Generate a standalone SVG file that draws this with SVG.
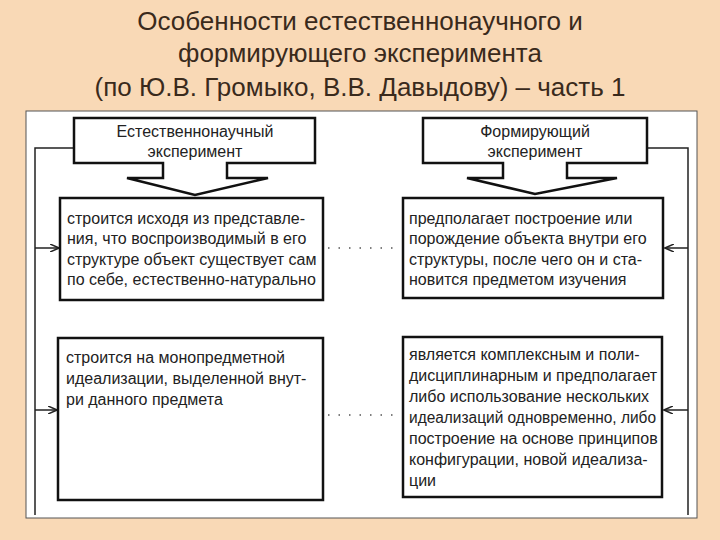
<svg xmlns="http://www.w3.org/2000/svg" width="720" height="540" viewBox="0 0 720 540">
<style>
.t{font-family:"Liberation Sans",Arial,sans-serif;font-size:16px;fill:#222}
.h{font-family:"Liberation Sans",Arial,sans-serif;font-size:16px;fill:#222;text-anchor:middle}
.ti{font-family:"Liberation Sans",Arial,sans-serif;font-size:26px;fill:#3a2a1c;text-anchor:middle}
.b{fill:#fff;stroke:#111;stroke-width:2.5}
.c{fill:none;stroke:#222;stroke-width:1.5}
.d{fill:none;stroke:#555;stroke-width:1.5;stroke-dasharray:1.5 9}
</style>
<defs><marker id="a" markerWidth="10" markerHeight="8" refX="9" refY="4" orient="auto" markerUnits="userSpaceOnUse"><path d="M0,0 L9,4 L0,8" fill="none" stroke="#222" stroke-width="1.5"/></marker></defs>
<rect width="720" height="540" fill="#F9D9B6"/>
<rect x="26" y="111" width="671" height="407" fill="#fff" stroke="#555" stroke-width="1"/>
<g id="title">
<text class="ti" x="360" y="30">Особенности естественнонаучного и</text>
<text class="ti" x="360" y="62">формирующего эксперимента</text>
<text class="ti" x="360" y="96">(по Ю.В. Громыко, В.В. Давыдову) – часть 1</text>
</g>
<g id="connectors">
<path class="c" d="M74,148 H35 V515"/>
<path class="c" d="M35,248 H59" marker-end="url(#a)"/>
<path class="c" d="M35,410 H57" marker-end="url(#a)"/>
<path class="c" d="M647,148 H688 V515"/>
<path class="c" d="M688,248 H665" marker-end="url(#a)"/>
<path class="c" d="M688,410 H664" marker-end="url(#a)"/>
<path class="d" d="M328,248 H400"/>
<path class="d" d="M328,415 H400"/>
</g>
<g id="h1">
<path class="b" d="M74,118 H315 V163 H227 V178 H268 L195,195 L127,178 H163 V163 H74 Z"/>
<text class="h" x="195" y="137">Естественнонаучный</text>
<text class="h" x="195" y="157">эксперимент</text>
</g>
<g id="h2">
<path class="b" d="M423,118 H647 V163 H567 V178 H617 L535,194 L467,178 H503 V163 H423 Z"/>
<text class="h" x="535" y="137">Формирующий</text>
<text class="h" x="535" y="157">эксперимент</text>
</g>
<g id="l1">
<rect class="b" x="60" y="198" width="263" height="102"/>
<text class="t" x="67" y="224">строится исходя из представле-</text>
<text class="t" x="67" y="244">ния, что воспроизводимый в его</text>
<text class="t" x="67" y="265">структуре объект существует сам</text>
<text class="t" x="67" y="285">по себе, естественно-натурально</text>
</g>
<g id="r1">
<rect class="b" x="403" y="198" width="260" height="100"/>
<text class="t" x="409" y="224">предполагает построение или</text>
<text class="t" x="409" y="244">порождение объекта внутри его</text>
<text class="t" x="409" y="265">структуры, после чего он и ста-</text>
<text class="t" x="409" y="285">новится предметом изучения</text>
</g>
<g id="l2">
<rect class="b" x="58" y="338" width="265" height="162"/>
<text class="t" x="66" y="363">строится на монопредметной</text>
<text class="t" x="66" y="384">идеализации, выделенной внут-</text>
<text class="t" x="66" y="405">ри данного предмета</text>
</g>
<g id="r2">
<rect class="b" x="403" y="337" width="259" height="160"/>
<text class="t" x="409" y="360">является комплексным и поли-</text>
<text class="t" x="409" y="381">дисциплинарным и предполагает</text>
<text class="t" x="409" y="402">либо использование нескольких</text>
<text class="t" x="409" y="423" textLength="247" lengthAdjust="spacingAndGlyphs">идеализаций одновременно, либо</text>
<text class="t" x="409" y="444">построение на основе принципов</text>
<text class="t" x="409" y="465">конфигурации, новой идеализа-</text>
<text class="t" x="409" y="486">ции</text>
</g>
</svg>
